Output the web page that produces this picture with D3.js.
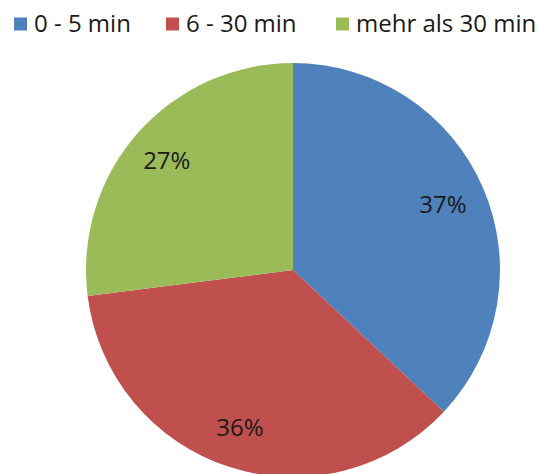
<!DOCTYPE html>
<html>
<head>
<meta charset="utf-8">
<script src="https://cdn.jsdelivr.net/npm/d3@7"></script>
<style>
  html, body { margin: 0; padding: 0; background: #fff; }
  svg { display: block; }
  text { font-family: "Open Sans", Lato, sans-serif; fill: #1a1a1a; }
</style>
</head>
<body>
<svg id="chart" width="539" height="474"></svg>
<script>
// Travel time shares
const categories = ["0 - 5 min", "6 - 30 min", "mehr als 30 min"];
const values = [37, 36, 27];
const colors = ["#4F81BD", "#C0504D", "#9BBB59"];

const width = 539, height = 474;
const cx = 293, cy = 270, radius = 207;

const svg = d3.select("#chart");

const pie = d3.pie().sort(null).value(d => d.value);
const data = categories.map((c, i) => ({ name: c, value: values[i], color: colors[i] }));
const arcs = pie(data);

const arc = d3.arc().innerRadius(0).outerRadius(radius);
const labelArc = d3.arc().innerRadius(radius * 0.8).outerRadius(radius * 0.8);

const g = svg.append("g").attr("transform", `translate(${cx},${cy})`);

g.selectAll("path.slice")
  .data(arcs)
  .join("path")
  .attr("class", "slice")
  .attr("d", arc)
  .attr("fill", d => d.data.color);

g.selectAll("text.pct")
  .data(arcs)
  .join("text")
  .attr("class", "pct")
  .attr("transform", d => {
    const [x, y] = labelArc.centroid(d);
    return `translate(${x - 2},${y})`;
  })
  .attr("text-anchor", "middle")
  .attr("dy", "0.36em")
  .style("font-size", "24px")
  .text(d => d.data.value + "%");

// Legend across the top
const legendX = [14, 166, 336];
const legend = svg.append("g").attr("class", "legend");
const items = legend.selectAll("g.item")
  .data(data)
  .join("g")
  .attr("class", "item")
  .attr("transform", (d, i) => `translate(${legendX[i]},0)`);

items.append("rect")
  .attr("x", 0).attr("y", 17.5)
  .attr("width", 13).attr("height", 13)
  .attr("fill", d => d.color);

items.append("text")
  .attr("x", 20).attr("y", 32)
  .style("font-size", "24px")
  .text(d => d.name);
</script>
</body>
</html>
